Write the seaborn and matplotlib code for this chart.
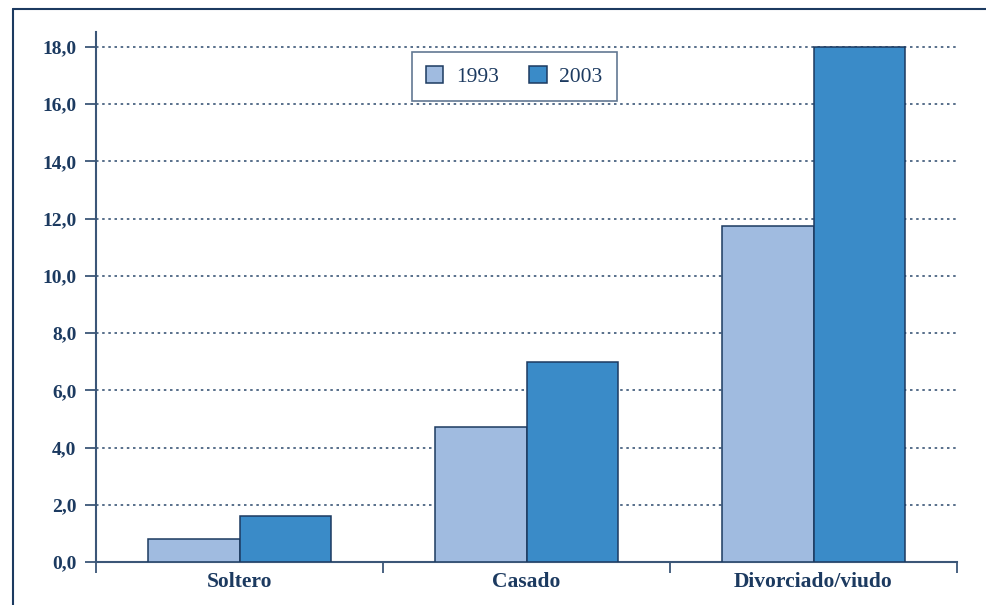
import pandas as pd
import numpy as np
import matplotlib
matplotlib.use("Agg")
import matplotlib.pyplot as plt
from matplotlib.lines import Line2D
from matplotlib.ticker import FixedLocator, NullFormatter
import seaborn as sns

# datos
categorias = ["Soltero", "Casado", "Divorciado/viudo"]
anios = ["1993", "2003"]
valores_1993 = [0.8, 4.7, 11.75]
valores_2003 = [1.6, 7.0, 18.0]
yticks = [0, 2, 4, 6, 8, 10, 12, 14, 16, 18]
ytick_labels = ["0,0", "2,0", "4,0", "6,0", "8,0", "10,0", "12,0", "14,0", "16,0", "18,0"]

df = pd.DataFrame({
    "categoria": categorias * 2,
    "anio": [anios[0]] * 3 + [anios[1]] * 3,
    "valor": valores_1993 + valores_2003,
})

navy = "#1c3a60"
spine_col = "#3b5677"
colores = {"1993": "#a0bbe0", "2003": "#3a8bc8"}

sns.set_style("white")
plt.rcParams["font.family"] = ["Liberation Serif", "DejaVu Serif"]

fig = plt.figure(figsize=(9.86, 6.05), dpi=100)
ax = fig.add_axes([96 / 986, 43 / 605, 861 / 986, 530 / 605])

sns.barplot(data=df, x="categoria", y="valor", hue="anio", palette=colores,
            saturation=1, width=0.635, edgecolor=navy, linewidth=1.1, ax=ax, zorder=3)

ax.set_xlim(-0.5, 2.5)
ax.set_ylim(0, 18.52)
ax.set_xlabel("")
ax.set_ylabel("")

# eje y
ax.set_yticks(yticks)
ax.set_yticklabels(ytick_labels, fontsize=14, fontweight="bold", color=navy)
ax.tick_params(axis="y", direction="out", length=8, width=1.3, color=spine_col, pad=6, left=True)

# eje x: etiquetas sin marca, marcas en los limites
ax.tick_params(axis="x", which="major", length=0, pad=7)
for lab in ax.get_xticklabels():
    lab.set_fontsize(15.5)
    lab.set_fontweight("bold")
    lab.set_color(navy)
ax.xaxis.set_minor_locator(FixedLocator([-0.5, 0.5, 1.5, 2.5]))
ax.xaxis.set_minor_formatter(NullFormatter())
ax.tick_params(axis="x", which="minor", direction="out", length=8, width=1.3,
               color=spine_col, bottom=True)

ax.grid(axis="y", linestyle=(0, (1.5, 2.2)), color=spine_col, linewidth=1.2, zorder=0)
ax.set_axisbelow(True)

sns.despine(ax=ax, top=True, right=True)
for s in ["left", "bottom"]:
    ax.spines[s].set_color(spine_col)
    ax.spines[s].set_linewidth(1.5)

leg = ax.legend(loc="upper center", bbox_to_anchor=(0.486, 0.962), ncol=2,
                frameon=True, fancybox=False, fontsize=15.5, handlelength=0.8,
                handleheight=0.8, handletextpad=0.6, columnspacing=1.4,
                borderpad=0.65, borderaxespad=0, labelcolor=navy, title=None)
leg.get_frame().set_edgecolor(spine_col)
leg.get_frame().set_linewidth(1.2)

# marco exterior (solo superior e izquierdo)
fig.add_artist(Line2D([13 / 986, 13 / 986], [0, 1 - 8.5 / 605], color=navy, linewidth=1.5))
fig.add_artist(Line2D([13 / 986, 1], [1 - 8.5 / 605, 1 - 8.5 / 605], color=navy, linewidth=1.5))

fig.savefig("out.png", dpi=100)
